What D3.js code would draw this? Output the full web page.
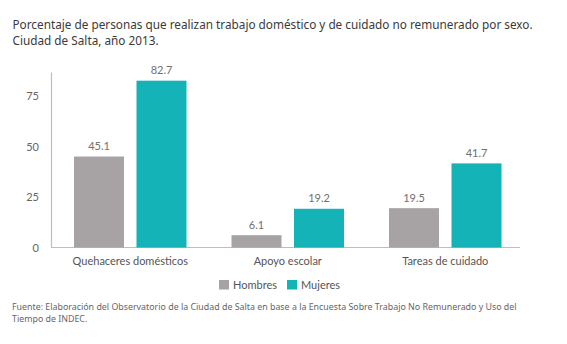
<!DOCTYPE html>
<html>
<head>
<meta charset="utf-8">
<script src="https://cdn.jsdelivr.net/npm/d3@7"></script>
<style>
  html, body { margin: 0; padding: 0; background: #fff; }
  svg { display: block; }
</style>
</head>
<body>
<svg id="chart" width="567" height="344"></svg>
<script>
// Categories, series and tick labels
const categories = ["Quehaceres domésticos", "Apoyo escolar", "Tareas de cuidado"];
const seriesNames = ["Hombres", "Mujeres"];
const hombres = [45.1, 6.1, 19.5];
const mujeres = [82.7, 19.2, 41.7];
const yTicks = [0, 25, 50, 75];
const colors = ["#a7a3a4", "#14b3b8"];

const titleLines = [
  "Porcentaje de personas que realizan trabajo doméstico y de cuidado no remunerado por sexo.",
  "Ciudad de Salta, año 2013."
];
const sourceLines = [
  "Fuente: Elaboración del Observatorio de la Ciudad de Salta en base a la Encuesta Sobre Trabajo No Remunerado y Uso del",
  "Tiempo de INDEC."
];

const rows = categories.map((c, i) => ({ cat: c, values: [hombres[i], mujeres[i]] }));

const svg = d3.select("#chart");
const chartFont = "Lato, 'Noto Sans', sans-serif";
const noteFont = "'Noto Sans', 'Open Sans', sans-serif";

// Sizes a block of text lines so that its first line spans the given width
function fitBlock(sel, width) {
  const first = sel.node();
  const size = parseFloat(sel.attr("font-size"));
  const w = first.getComputedTextLength();
  sel.attr("font-size", size * width / w);
}

// Title
const title = svg.append("g").selectAll("text").data(titleLines).join("text")
  .attr("x", 12.5)
  .attr("y", (d, i) => 28.5 + i * 16.5)
  .attr("font-family", noteFont)
  .attr("font-size", 13)
  .attr("fill", "#3a3a3a")
  .text(d => d);
fitBlock(title, 521);

// Scales
const x0 = d3.scaleBand().domain(categories).range([51.5, 524]).paddingInner(0).paddingOuter(0);
const x1 = d3.scaleBand().domain(seriesNames).range([22.5, x0.bandwidth() - 22.5]).paddingInner(0.2);
const y = d3.scaleLinear().domain([0, 87]).range([247.5, 72]);

// Y axis
const yAxis = svg.append("g")
  .attr("transform", "translate(51,0)")
  .call(d3.axisLeft(y).tickValues(yTicks).tickSize(0).tickPadding(12).tickFormat(d3.format("d")));
yAxis.select(".domain").attr("stroke", "#bdbdbd").attr("stroke-width", 1.2);
yAxis.selectAll("text").attr("font-family", chartFont).attr("font-size", 11).attr("fill", "#666");

// Baseline
svg.append("line")
  .attr("x1", 51).attr("x2", 520)
  .attr("y1", y(0)).attr("y2", y(0))
  .attr("stroke", "#bdbdbd").attr("stroke-width", 1.2);

// Category labels
const xAxis = svg.append("g")
  .attr("transform", `translate(0,${y(0)})`)
  .call(d3.axisBottom(x0).tickSize(0).tickPadding(10));
xAxis.select(".domain").remove();
xAxis.selectAll("text").attr("font-family", chartFont).attr("font-size", 11).attr("fill", "#555");

// Bars
const groups = svg.append("g").selectAll("g").data(rows).join("g")
  .attr("transform", d => `translate(${x0(d.cat)},0)`);

groups.selectAll("rect")
  .data(d => d.values.map((v, i) => ({ key: seriesNames[i], value: v, i })))
  .join("rect")
  .attr("x", d => x1(d.key))
  .attr("width", x1.bandwidth())
  .attr("y", d => y(d.value))
  .attr("height", d => y(0) - y(d.value))
  .attr("fill", d => colors[d.i]);

groups.selectAll("text.val")
  .data(d => d.values.map((v, i) => ({ key: seriesNames[i], value: v })))
  .join("text")
  .attr("class", "val")
  .attr("x", d => x1(d.key) + x1.bandwidth() / 2)
  .attr("y", d => y(d.value) - 6.5)
  .attr("text-anchor", "middle")
  .attr("font-family", chartFont)
  .attr("font-size", 11)
  .attr("fill", "#707070")
  .text(d => d.value.toFixed(1));

// Legend
const legendX = [219, 287];
const legend = svg.append("g").selectAll("g").data(seriesNames).join("g")
  .attr("transform", (d, i) => `translate(${legendX[i]},280)`);
legend.append("rect").attr("width", 10).attr("height", 9.5).attr("fill", (d, i) => colors[i]);
legend.append("text")
  .attr("x", 14).attr("y", 8.5)
  .attr("font-family", chartFont).attr("font-size", 11).attr("fill", "#555")
  .text(d => d);

// Source note
const source = svg.append("g").selectAll("text").data(sourceLines).join("text")
  .attr("x", 12)
  .attr("y", (d, i) => 310 + i * 12)
  .attr("font-family", noteFont)
  .attr("font-size", 9.5)
  .attr("fill", "#666")
  .text(d => d);
fitBlock(source, 505);
</script>
</body>
</html>
